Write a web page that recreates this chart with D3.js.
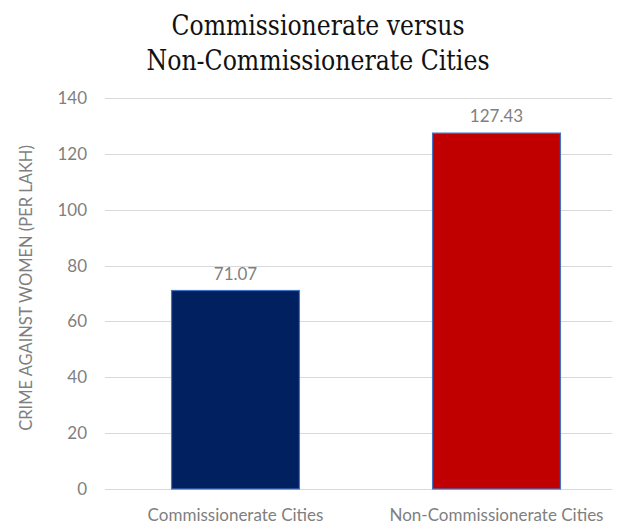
<!DOCTYPE html>
<html>
<head>
<meta charset="utf-8">
<script src="https://cdn.jsdelivr.net/npm/d3@7"></script>
<style>
  html, body { margin: 0; padding: 0; background: #fff; }
  svg { display: block; }
</style>
</head>
<body>
<svg id="chart" width="630" height="525"></svg>
<script>
// Chart data
const categories = ["Commissionerate Cities", "Non-Commissionerate Cities"];
const values = [71.07, 127.43];
const barColors = ["#002060", "#C00000"];
const yTicks = [0, 20, 40, 60, 80, 100, 120, 140];
const titleLines = ["Commissionerate versus", "Non-Commissionerate Cities"];
const yAxisTitle = "CRIME AGAINST WOMEN (PER LAKH)";

const svg = d3.select("#chart");
const sansFont = "Lato, 'Open Sans', sans-serif";
const labelGray = "#7f7f7f";

const y = d3.scaleLinear().domain([0, 140]).range([489, 98]);
const x = d3.scaleBand()
  .domain(categories)
  .range([105, 627])
  .paddingInner(0.51)
  .paddingOuter(0.255);

const gridLeft = 105, gridRight = 612;

// Horizontal gridlines
svg.append("g")
  .selectAll("line")
  .data(yTicks)
  .join("line")
  .attr("x1", gridLeft)
  .attr("x2", gridRight)
  .attr("y1", d => Math.round(y(d)) + 0.5)
  .attr("y2", d => Math.round(y(d)) + 0.5)
  .attr("stroke", "#d9d9d9")
  .attr("stroke-width", 1);

// Y tick labels
svg.append("g")
  .selectAll("text")
  .data(yTicks)
  .join("text")
  .attr("x", 87)
  .attr("y", d => y(d))
  .attr("dy", "0.35em")
  .attr("text-anchor", "end")
  .attr("font-family", sansFont)
  .attr("font-size", 17)
  .attr("fill", labelGray)
  .text(d => d);

// Bars
svg.append("g")
  .selectAll("rect")
  .data(values)
  .join("rect")
  .attr("x", (d, i) => x(categories[i]))
  .attr("y", d => y(d))
  .attr("width", x.bandwidth())
  .attr("height", d => y(0) - y(d))
  .attr("fill", (d, i) => barColors[i])
  .attr("stroke", "#4472C4")
  .attr("stroke-width", 1.2);

// Value labels
svg.append("g")
  .selectAll("text")
  .data(values)
  .join("text")
  .attr("x", (d, i) => x(categories[i]) + x.bandwidth() / 2)
  .attr("y", d => y(d) - 11)
  .attr("text-anchor", "middle")
  .attr("font-family", sansFont)
  .attr("font-size", 17)
  .attr("fill", labelGray)
  .text(d => d.toFixed(2));

// Category labels
svg.append("g")
  .selectAll("text")
  .data(categories)
  .join("text")
  .attr("x", d => x(d) + x.bandwidth() / 2)
  .attr("y", 521)
  .attr("text-anchor", "middle")
  .attr("font-family", sansFont)
  .attr("font-size", 17)
  .attr("fill", labelGray)
  .text(d => d);

// Y axis title
svg.append("text")
  .attr("transform", "translate(32,288) rotate(-90)")
  .attr("text-anchor", "middle")
  .attr("font-family", sansFont)
  .attr("font-size", 16.5)
  .attr("fill", labelGray)
  .text(yAxisTitle);

// Chart title
const titleWidths = [293, 343];
svg.append("g")
  .selectAll("text")
  .data(titleLines)
  .join("text")
  .attr("x", 318)
  .attr("y", (d, i) => 35 + i * 35)
  .attr("text-anchor", "middle")
  .attr("font-family", "'DejaVu Serif Condensed', 'DejaVu Serif', serif")
  .attr("font-stretch", "condensed")
  .attr("font-size", 28)
  .attr("fill", "#111")
  .attr("textLength", (d, i) => titleWidths[i])
  .attr("lengthAdjust", "spacingAndGlyphs")
  .text(d => d);
</script>
</body>
</html>
